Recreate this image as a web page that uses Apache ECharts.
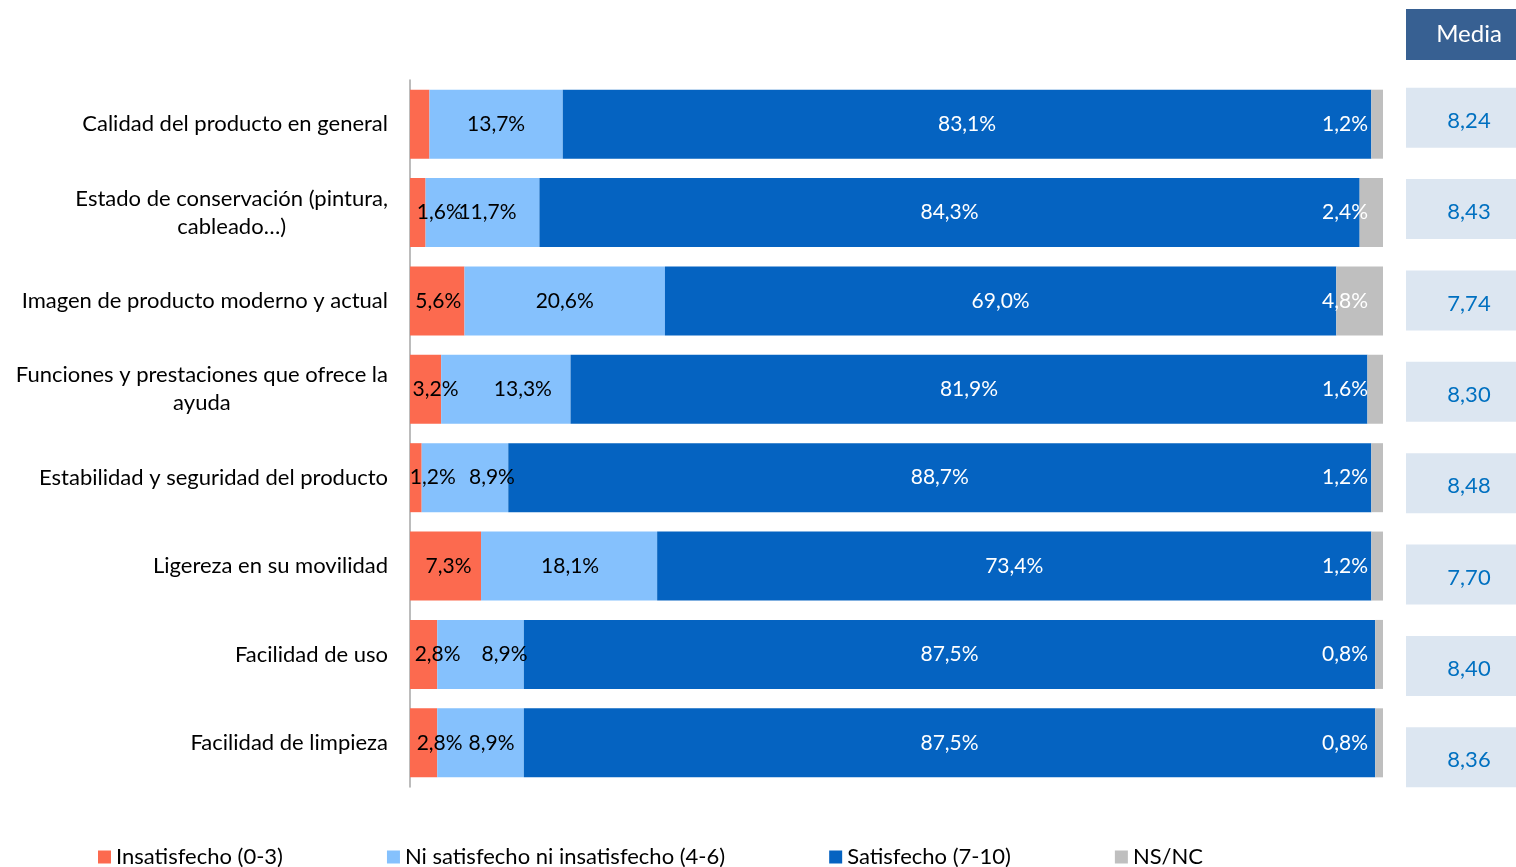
<!DOCTYPE html>
<html><head><meta charset="utf-8">
<script src="https://cdn.jsdelivr.net/npm/echarts@6/dist/echarts.min.js"></script>
<style>html,body{margin:0;padding:0;background:#fff}#c{width:1516px;height:867px}</style>
</head><body><div id="c"></div>
<script>
// ---- data ----
const categories = [
  'Calidad del producto en general',
  'Estado de conservación (pintura,\ncableado…)',
  'Imagen de producto moderno y actual',
  'Funciones y prestaciones que ofrece la\nayuda',
  'Estabilidad y seguridad del producto',
  'Ligereza en su movilidad',
  'Facilidad de uso',
  'Facilidad de limpieza'
];
const seriesNames = ['Insatisfecho (0-3)', 'Ni satisfecho ni insatisfecho (4-6)', 'Satisfecho (7-10)', 'NS/NC'];
const insatisfecho = [2.0, 1.6, 5.6, 3.2, 1.2, 7.3, 2.8, 2.8];
const niSatisfecho = [13.7, 11.7, 20.6, 13.3, 8.9, 18.1, 8.9, 8.9];
const satisfecho   = [83.1, 84.3, 69.0, 81.9, 88.7, 73.4, 87.5, 87.5];
const nsnc         = [1.2, 2.4, 4.8, 1.6, 1.2, 1.2, 0.8, 0.8];
const media        = [8.24, 8.43, 7.74, 8.30, 8.48, 7.70, 8.40, 8.36];
const mediaTitle = 'Media';

// ---- style ----
const FONT = 'Lato';
const colors = ['#FC6A4F', '#85C1FD', '#0563C1', '#BFBFBF'];
const insatLabelShown = [false, true, true, true, true, true, true, true];
const insatLabelShift = [0, 22, 1, 10, 17, 3, 14, 16];
const niLabelShift = [0, 5, 0, 17, 27, 1, 24, 11];

const fmtPct = v => v.toFixed(1).replace('.', ',') + '%';
const fmtNum = v => v.toFixed(2).replace('.', ',');

const baseLabel = { show: true, fontFamily: FONT, fontSize: 21, formatter: p => fmtPct(p.value) };

const chart = echarts.init(document.getElementById('c'), null, { renderer: 'canvas' });
chart.setOption({
  animation: false,
  backgroundColor: '#ffffff',
  textStyle: { fontFamily: FONT },
  title: {
    text: '{h|' + mediaTitle + '}',
    left: 1406, top: 9, padding: 0,
    textStyle: {
      rich: {
        h: { width: 94, height: 51, lineHeight: 51, align: 'center', backgroundColor: '#376092',
             padding: [0, 0, 0, 16], color: '#ffffff', fontSize: 24, fontWeight: 'normal', fontFamily: FONT }
      }
    }
  },
  legend: {
    data: seriesNames,
    left: 93, top: 841,
    itemWidth: 13, itemHeight: 13, itemGap: 104,
    icon: 'rect',
    textStyle: { fontFamily: FONT, fontSize: 22, color: '#000' }
  },
  grid: [
    { left: 410, right: 133, top: 80, bottom: 80 },
    { left: 1406, width: 110, top: 72, height: 731 }
  ],
  xAxis: [
    { type: 'value', min: 0, max: 100, show: false, gridIndex: 0 },
    { type: 'value', min: 0, max: 1, show: false, gridIndex: 1 }
  ],
  yAxis: [
    {
      type: 'category', gridIndex: 0, inverse: true, data: categories,
      axisLine: { show: true, lineStyle: { color: '#A6A6A6', width: 1.5 } },
      axisTick: { show: false },
      axisLabel: {
        margin: 22, fontFamily: FONT, fontSize: 22, color: '#000', lineHeight: 28,
        formatter: v => v.indexOf('\n') >= 0 ? v.split('\n').map(l => '{c|' + l + '}').join('\n') : v,
        rich: { c: { align: 'center', fontFamily: FONT, fontSize: 22, lineHeight: 28, color: '#000' } }
      }
    },
    {
      type: 'category', gridIndex: 1, inverse: true, data: media.map(fmtNum),
      axisLine: { show: false }, axisTick: { show: false },
      axisLabel: {
        inside: true, align: 'center', margin: 55,
        formatter: v => '{v|' + v + '}',
        rich: {
          v: { width: 94, height: 24, lineHeight: 24, padding: [21, 0, 15, 16], align: 'center',
               backgroundColor: '#DCE6F1', color: '#0070C0', fontFamily: FONT, fontSize: 22 }
        }
      }
    }
  ],
  series: [
    {
      name: seriesNames[0], type: 'bar', stack: 'total', barWidth: 69,
      itemStyle: { color: colors[0] },
      label: Object.assign({}, baseLabel, { position: 'inside', color: '#000' }),
      data: insatisfecho.map((v, i) => ({ value: v, label: { show: insatLabelShown[i], offset: [insatLabelShift[i], 0] } }))
    },
    {
      name: seriesNames[1], type: 'bar', stack: 'total', barWidth: 69,
      itemStyle: { color: colors[1] },
      label: Object.assign({}, baseLabel, { position: 'inside', color: '#000' }),
      data: niSatisfecho.map((v, i) => ({ value: v, label: { offset: [niLabelShift[i], 0] } }))
    },
    {
      name: seriesNames[2], type: 'bar', stack: 'total', barWidth: 69,
      itemStyle: { color: colors[2] },
      label: Object.assign({}, baseLabel, { position: 'inside', color: '#fff' }),
      data: satisfecho
    },
    {
      name: seriesNames[3], type: 'bar', stack: 'total', barWidth: 69,
      itemStyle: { color: colors[3] },
      label: Object.assign({}, baseLabel, { position: 'insideRight', distance: 15, color: '#fff' }),
      data: nsnc
    }
  ]
});
</script></body></html>
